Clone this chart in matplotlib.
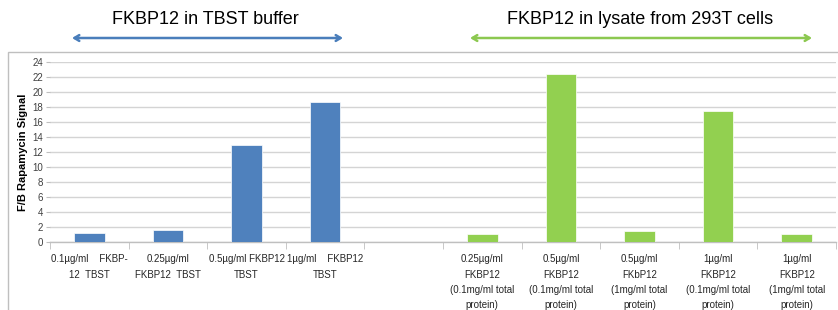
import matplotlib
matplotlib.use('Agg')
import matplotlib.pyplot as plt
import numpy as np
from matplotlib.patches import Rectangle

plt.rcParams.update({'font.family': ['Liberation Sans', 'DejaVu Sans'], 'font.size': 7})

C_BLUE = '#4f81bd'
C_GREEN = '#92d050'
C_GRID = '#d4d4d4'

labels = ['0.1µg/ml    FKBP-\n12  TBST', '0.25µg/ml\nFKBP12  TBST',
          '0.5µg/ml FKBP12\nTBST', '1µg/ml    FKBP12\nTBST', '',
          '0.25µg/ml\nFKBP12\n(0.1mg/ml total\nprotein)',
          '0.5µg/ml\nFKBP12\n(0.1mg/ml total\nprotein)',
          '0.5µg/ml\nFKbP12\n(1mg/ml total\nprotein)',
          '1µg/ml\nFKBP12\n(0.1mg/ml total\nprotein)',
          '1µg/ml\nFKBP12\n(1mg/ml total\nprotein)']
values = [1.2, 1.6, 12.9, 18.7, 0, 1.1, 22.4, 1.5, 17.5, 1.1]
groups = ['buffer'] * 4 + [''] + ['lysate'] * 5
yticks = list(range(0, 25, 2))

fig = plt.figure(figsize=(8.38, 3.10), dpi=100)
# chart frame
fig.patches.append(Rectangle((8 / 838, -0.01), 1.0, 1 - 52 / 310 + 0.01,
                             transform=fig.transFigure, fill=False,
                             edgecolor='#bfbfbf', linewidth=1.0))

ax = fig.add_axes([50 / 838, 1 - 242 / 310, 786 / 838, 180 / 310])
x = np.arange(len(labels))
colours = [C_BLUE if g == 'buffer' else C_GREEN for g in groups]
ax.bar(x, values, width=0.39, color=colours, edgecolor='white', linewidth=0.5, zorder=3)

ax.set_xlim(-0.5, len(labels) - 0.5)
ax.set_ylim(0, 24)
ax.set_yticks(yticks)
ax.tick_params(axis='y', length=3, color='#bfbfbf', labelsize=7,
               labelcolor='#404040', pad=2)
ax.yaxis.grid(True, color=C_GRID, linewidth=1.0)
ax.set_axisbelow(True)
ax.set_xticks(x)
ax.set_xticklabels(labels, fontsize=7, linespacing=1.65, va='top')
ax.tick_params(axis='x', length=0, pad=9, labelcolor='#262626')
ax.set_xticks(np.arange(-0.5, len(labels)), minor=True)
ax.tick_params(axis='x', which='minor', length=5, color='#bfbfbf')
for s in ['top', 'right', 'left']:
    ax.spines[s].set_visible(False)
ax.spines['bottom'].set_color('#bfbfbf')
ax.spines['bottom'].set_linewidth(1.0)
ax.set_ylabel('F/B Rapamycin Signal', fontsize=8, fontweight='bold', labelpad=3)

# group headers with double arrows
fig.text(205 / 838, 1 - 20 / 310, 'FKBP12 in TBST buffer', fontsize=13,
         ha='center', va='center')
fig.text(640 / 838, 1 - 20 / 310, 'FKBP12 in lysate from 293T cells', fontsize=13,
         ha='center', va='center')
for x0, x1, c in [(72, 343, '#4a7ebb'), (470, 812, '#8cc850')]:
    ax.annotate('', xy=(x1 / 838, 1 - 38 / 310), xytext=(x0 / 838, 1 - 38 / 310),
                xycoords='figure fraction', textcoords='figure fraction',
                arrowprops=dict(arrowstyle='<->,head_length=0.5,head_width=0.3',
                                color=c, lw=1.8, shrinkA=0, shrinkB=0))

fig.savefig('out.png', dpi=100)
